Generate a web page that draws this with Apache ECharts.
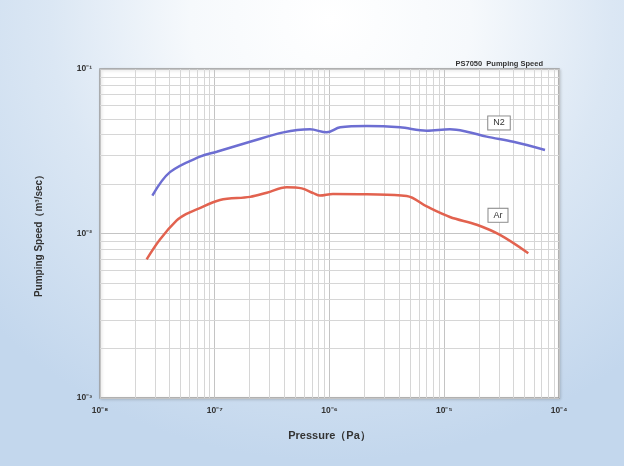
<!DOCTYPE html>
<html>
<head>
<meta charset="utf-8">
<script src="https://cdn.jsdelivr.net/npm/echarts@6/dist/echarts.min.js"></script>
<style>
html,body{margin:0;padding:0;}
#c{width:624px;height:466px;background:radial-gradient(ellipse 75% 95% at 53% 4%, #ffffff 0%, #f6f9fc 30%, #dbe7f4 60%, #c3d7ed 100%);}
</style>
</head>
<body>
<div id="c"></div>
<script>
// Pressure (Pa) and pumping speed (m^3/sec)
const n2Pressure = [2.86e-8, 4.07e-8, 7.43e-8, 1.04e-7, 2.03e-7, 3.96e-7, 6.76e-7, 9.45e-7, 1.24e-6, 2.11e-6, 4.11e-6, 7.03e-6, 1.12e-5, 1.57e-5, 2.34e-5, 4.00e-5, 7.55e-5];
const n2Speed    = [0.0170, 0.0236, 0.0293, 0.0314, 0.0361, 0.0412, 0.0430, 0.0412, 0.0442, 0.0450, 0.0442, 0.0422, 0.0430, 0.0416, 0.0388, 0.0361, 0.0322];
const arPressure = [2.55e-8, 3.33e-8, 4.66e-8, 5.61e-8, 6.96e-8, 1.11e-7, 2.03e-7, 2.84e-7, 4.24e-7, 5.73e-7, 7.23e-7, 8.26e-7, 1.07e-6, 2.11e-6, 4.71e-6, 7.03e-6, 1.12e-5, 1.92e-5, 3.06e-5, 5.40e-5];
const arSpeed    = [0.00697, 0.00920, 0.0120, 0.0131, 0.0140, 0.0160, 0.0167, 0.0177, 0.0191, 0.0188, 0.0176, 0.0170, 0.0174, 0.0173, 0.0169, 0.0146, 0.0126, 0.0113, 0.0098, 0.00759];
const xDecades = [-8, -7, -6, -5, -4];
const yDecades = [-3, -2, -1];
const seriesNames = ['N2', 'Ar'];
const labelPos = {N2: [3.0e-5, 0.047], Ar: [2.94e-5, 0.0129]};

const sup = {'-':'⁻','0':'⁰','1':'¹','2':'²','3':'³','4':'⁴','5':'⁵','6':'⁶','7':'⁷','8':'⁸','9':'⁹'};
function pow10Label(v){
  const e = Math.round(Math.log10(v));
  return '10' + String(e).split('').map(c => sup[c]).join('');
}
const mults = [2,3,4,5,6,7,8,9];
const xMinor = [], yMinor = [];
xDecades.slice(0,-1).forEach(d => mults.forEach(m => xMinor.push(m * Math.pow(10, d))));
yDecades.slice(0,-1).forEach(d => mults.forEach(m => yMinor.push(m * Math.pow(10, d))));
const xMin = Math.pow(10, xDecades[0]), xMax = Math.pow(10, xDecades[xDecades.length-1]);
const yMin = Math.pow(10, yDecades[0]), yMax = Math.pow(10, yDecades[yDecades.length-1]);

const gridStyle = {stroke:'#d6d6d6', lineWidth:1};
function vLine(params, api){
  const v = api.value(0);
  const a = api.coord([v, yMin]), b = api.coord([v, yMax]);
  return {type:'line', shape:{x1:Math.round(a[0])+0.5, y1:a[1], x2:Math.round(b[0])+0.5, y2:b[1]}, style:gridStyle, silent:true};
}
function hLine(params, api){
  const v = api.value(1);
  const a = api.coord([xMin, v]), b = api.coord([xMax, v]);
  return {type:'line', shape:{x1:a[0], y1:Math.round(a[1])+0.5, x2:b[0], y2:Math.round(b[1])+0.5}, style:gridStyle, silent:true};
}

const chart = echarts.init(document.getElementById('c'));
chart.setOption({
  backgroundColor:'transparent',
  animation:false,
  title:{text:'PS7050  Pumping Speed', right:76, top:55, textStyle:{fontSize:7.5, fontWeight:'bold', color:'#333', fontFamily:'Liberation Sans'}},
  grid:{left:100, top:69, right:65, bottom:68, show:true, backgroundColor:'#ffffff', borderColor:'#9a9a9a', borderWidth:1.5, shadowColor:'rgba(0,0,0,0.15)', shadowBlur:3, shadowOffsetX:1, shadowOffsetY:1},
  xAxis:{type:'log', logBase:10, min:xMin, max:xMax, interval:1,
    name:'Pressure（Pa）', nameLocation:'middle', nameGap:32,
    nameTextStyle:{fontSize:11, fontWeight:'bold', color:'#333', fontFamily:'Liberation Sans'},
    axisLine:{show:false}, axisTick:{show:false},
    axisLabel:{formatter:pow10Label, fontSize:8.5, color:'#333', fontWeight:'bold', margin:8, fontFamily:'Liberation Sans'},
    splitLine:{show:true, lineStyle:{color:'#c4c4c4', width:1}}},
  yAxis:{type:'log', logBase:10, min:yMin, max:yMax, interval:1,
    name:'Pumping Speed（m³/sec）', nameLocation:'middle', nameGap:56, nameRotate:90,
    nameTextStyle:{fontSize:10, fontWeight:'bold', color:'#333', fontFamily:'Liberation Sans'},
    axisLine:{show:false}, axisTick:{show:false},
    axisLabel:{formatter:pow10Label, fontSize:8.5, color:'#333', fontWeight:'bold', margin:8, fontFamily:'Liberation Sans'},
    splitLine:{show:true, lineStyle:{color:'#c4c4c4', width:1}}},
  series:[
    {type:'custom', renderItem:vLine, silent:true, z:1, data:xMinor.map(v => [v, 1e-2])},
    {type:'custom', renderItem:hLine, silent:true, z:1, data:yMinor.map(v => [1e-6, v])},
    {name:seriesNames[0], type:'line', smooth:0.35, showSymbol:false, z:5,
      data:n2Pressure.map((p,i)=>[p,n2Speed[i]]),
      lineStyle:{color:'#6d6ed2', width:2.5}, itemStyle:{color:'#6d6ed2'},
      markPoint:{symbol:'rect', symbolSize:1, itemStyle:{color:'transparent'},
        label:{show:true, formatter:seriesNames[0], color:'#333', fontSize:9, backgroundColor:'#fff', borderColor:'#888', borderWidth:1, padding:[2,5], fontFamily:'Liberation Sans'},
        data:[{coord:labelPos.N2}]}},
    {name:seriesNames[1], type:'line', smooth:0.35, showSymbol:false, z:5,
      data:arPressure.map((p,i)=>[p,arSpeed[i]]),
      lineStyle:{color:'#e2624f', width:2.5}, itemStyle:{color:'#e2624f'},
      markPoint:{symbol:'rect', symbolSize:1, itemStyle:{color:'transparent'},
        label:{show:true, formatter:seriesNames[1], color:'#333', fontSize:9, backgroundColor:'#fff', borderColor:'#888', borderWidth:1, padding:[2,5], fontFamily:'Liberation Sans'},
        data:[{coord:labelPos.Ar}]}}
  ]
});
</script>
</body>
</html>
